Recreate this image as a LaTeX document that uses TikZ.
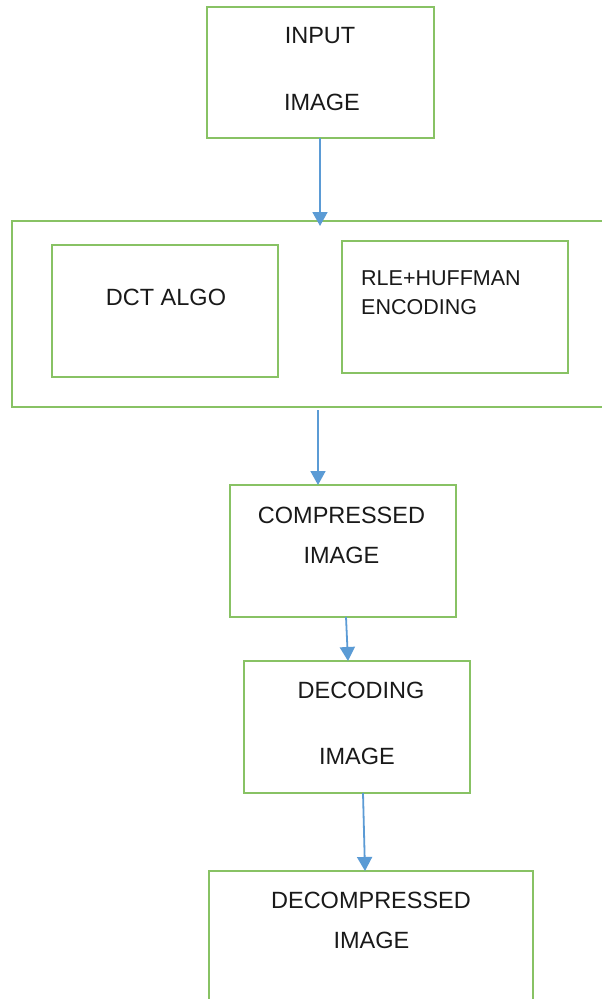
\documentclass[tikz,border=0pt]{standalone}
\usepackage{fontspec}
\setmainfont{Liberation Sans}
\usetikzlibrary{arrows.meta,calc}
\definecolor{boxgreen}{RGB}{136,194,100}
\definecolor{arrowblue}{RGB}{91,155,213}
\definecolor{txt}{RGB}{25,25,25}
\begin{document}
\begin{tikzpicture}[x=1pt,y=-1pt,
  box/.style={draw=boxgreen,line width=2pt,anchor=north west,inner sep=0pt,outer sep=0pt},
  lbl/.style={anchor=base,inner sep=0pt,text=txt,font=\fontsize{23.5}{28}\selectfont},
  lbll/.style={anchor=base west,inner sep=0pt,text=txt,font=\fontsize{21.5}{26}\selectfont},
  conn/.style={draw=arrowblue,line width=1.8pt,-{Triangle[width=15pt,length=14pt]}}]
\useasboundingbox (0,0) rectangle (602,999);
\fill[white] (0,0) rectangle (602,999);
\begin{scope}
\clip (0,0) rectangle (602,999);
% boxes
\node[box,minimum width=227pt,minimum height=131pt] (inp) at (207,7) {};
\node[box,minimum width=640pt,minimum height=186pt] (outer) at (11.5,221) {};
\node[box,minimum width=226pt,minimum height=132pt] (dct) at (52,245) {};
\node[box,minimum width=226pt,minimum height=132pt] (rle) at (342,241) {};
\node[box,minimum width=226pt,minimum height=132pt] (comp) at (230,485) {};
\node[box,minimum width=226pt,minimum height=132pt] (dec) at (244,661) {};
\node[box,minimum width=324pt,minimum height=160pt] (decomp) at (209,871) {};
% texts
\node[lbl] (t1) at (320,43) {INPUT};
\node[lbl] (t2) at (322,110) {IMAGE};
\node[lbl] (t3) at (166,305) {DCT ALGO};
\node[lbll] (t4) at (361,285) {RLE+HUFFMAN};
\node[lbll] (t5) at (361,314) {ENCODING};
\node[lbl] (t6) at (341.5,523) {COMPRESSED};
\node[lbl] (t7) at (341.5,563) {IMAGE};
\node[lbl] (t8) at (361,698) {DECODING};
\node[lbl] (t9) at (357,764) {IMAGE};
\node[lbl] (t10) at (371,908) {DECOMPRESSED};
\node[lbl] (t11) at (371.5,948) {IMAGE};
% connectors
\coordinate (a1s) at (320,138);
\coordinate (a1e) at (320,226);
\draw[conn] (a1s) -- (a1e);
\coordinate (a2s) at (318,410);
\draw[conn] (a2s) -- (a2s |- comp.north);
\draw[conn] ([xshift=3pt]comp.south) -- ([xshift=-9pt]dec.north);
\draw[conn] ([xshift=6pt]dec.south) -- ([xshift=-6pt]decomp.north);
\end{scope}
\end{tikzpicture}
\end{document}
